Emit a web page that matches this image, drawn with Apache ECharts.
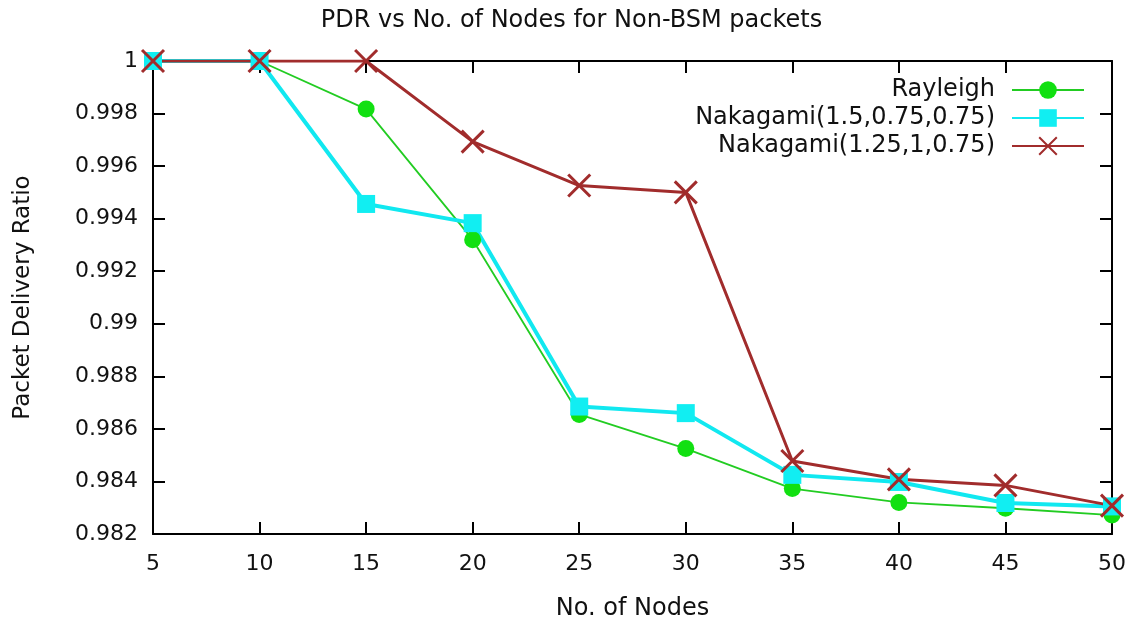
<!DOCTYPE html>
<html>
<head>
<meta charset="utf-8">
<title>PDR vs No. of Nodes</title>
<script src="https://cdn.jsdelivr.net/npm/echarts@6/dist/echarts.min.js"></script>
<style>
  html, body { margin: 0; padding: 0; background: #ffffff; }
  #chart { width: 1143px; height: 621px; }
</style>
</head>
<body>
<div id="chart"></div>
<script>
// Number of nodes (x axis)
const nodes = [5, 10, 15, 20, 25, 30, 35, 40, 45, 50];

// Packet delivery ratio per channel model
const rayleigh      = [1, 1, 0.99817, 0.99320, 0.98655, 0.98525, 0.98373, 0.98320, 0.98298, 0.98272];
const nakagami15    = [1, 1, 0.99456, 0.99383, 0.98685, 0.98660, 0.98425, 0.98398, 0.98318, 0.98305];
const nakagami125   = [1, 1, 1, 0.99693, 0.99526, 0.99500, 0.98478, 0.98408, 0.98385, 0.98308];

const seriesNames = ['Rayleigh', 'Nakagami(1.5,0.75,0.75)', 'Nakagami(1.25,1,0.75)'];

const FONT = 'DejaVu Sans';

function pairs(values) {
  return nodes.map((n, i) => [n, values[i]]);
}

const crossPath = 'path://M0,0L20,20M20,0L0,20';

const chart = echarts.init(document.getElementById('chart'), null, { renderer: 'canvas' });

const frameLine = { show: true, onZero: false, lineStyle: { color: '#000', width: 2 } };
const innerTick = { show: true, inside: true, length: 12, lineStyle: { color: '#000', width: 2 } };

chart.setOption({
  backgroundColor: '#ffffff',
  animation: false,
  title: {
    text: 'PDR vs No. of Nodes for Non-BSM packets',
    left: 'center',
    top: 4,
    textStyle: { fontFamily: FONT, fontSize: 24, fontWeight: 'normal', color: '#111' }
  },
  legend: {
    orient: 'vertical',
    right: 53,
    top: 73,
    align: 'right',
    itemWidth: 72,
    itemHeight: 22,
    itemGap: 4,
    textStyle: { fontFamily: FONT, fontSize: 24, color: '#111', padding: [0, 12, 0, 0] },
    data: seriesNames
  },
  grid: { left: 153, right: 31, top: 61, bottom: 87, outerBoundsMode: 'none' },
  xAxis: [
    {
      type: 'value',
      min: 5, max: 50, interval: 5,
      name: 'No. of Nodes',
      nameLocation: 'middle',
      nameGap: 63,
      nameTextStyle: { fontFamily: FONT, fontSize: 24, color: '#111' },
      axisLine: frameLine,
      axisTick: innerTick,
      axisLabel: { fontFamily: FONT, fontSize: 22, color: '#111', margin: 19 },
      splitLine: { show: false }
    },
    {
      type: 'value',
      position: 'top',
      min: 5, max: 50, interval: 5,
      axisLine: frameLine,
      axisTick: innerTick,
      axisLabel: { show: false },
      splitLine: { show: false }
    }
  ],
  yAxis: [
    {
      type: 'value',
      min: 0.982, max: 1, interval: 0.002,
      name: 'Packet Delivery Ratio',
      nameLocation: 'middle',
      nameGap: 118,
      nameRotate: 90,
      nameTextStyle: { fontFamily: FONT, fontSize: 23, color: '#111' },
      axisLine: frameLine,
      axisTick: innerTick,
      axisLabel: {
        fontFamily: FONT, fontSize: 22, color: '#111', margin: 15,
        formatter: v => String(parseFloat(v.toFixed(3)))
      },
      splitLine: { show: false }
    },
    {
      type: 'value',
      position: 'right',
      min: 0.982, max: 1, interval: 0.002,
      axisLine: frameLine,
      axisTick: innerTick,
      axisLabel: { show: false },
      splitLine: { show: false }
    }
  ],
  series: [
    {
      name: seriesNames[0],
      type: 'line',
      data: pairs(rayleigh),
      symbol: 'circle',
      symbolSize: 17,
      lineStyle: { color: '#22cc22', width: 1.8 },
      itemStyle: { color: '#11e011' },
      emphasis: { disabled: true }
    },
    {
      name: seriesNames[1],
      type: 'line',
      data: pairs(nakagami15),
      symbol: 'rect',
      symbolSize: 18,
      lineStyle: { color: '#11e8f0', width: 4 },
      itemStyle: { color: '#11eef2' },
      emphasis: { disabled: true }
    },
    {
      name: seriesNames[2],
      type: 'line',
      data: pairs(nakagami125),
      symbol: crossPath,
      symbolSize: 22,
      lineStyle: { color: '#a12c2c', width: 3 },
      itemStyle: { color: 'rgba(0,0,0,0)', borderColor: '#a12c2c', borderWidth: 3 },
      emphasis: { disabled: true }
    }
  ]
});
</script>
</body>
</html>
